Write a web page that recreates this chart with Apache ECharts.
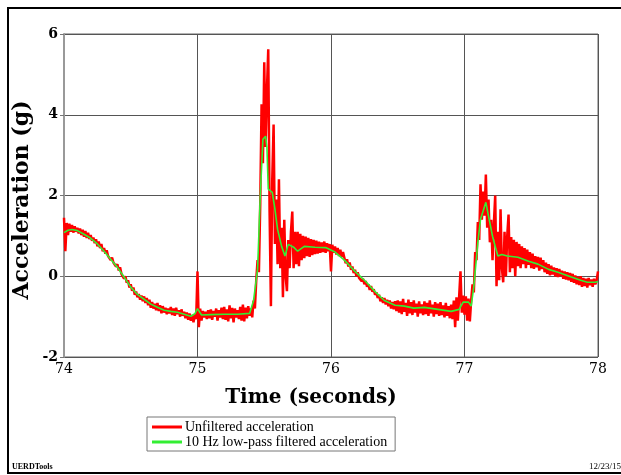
<!DOCTYPE html>
<html>
<head>
<meta charset="utf-8">
<script src="https://cdn.jsdelivr.net/npm/echarts@6/dist/echarts.min.js"></script>
<style>
    html, body { margin: 0; padding: 0; background: #fff; }
    #accel-chart { width: 621px; height: 475px; }
</style>
</head>
<body>
<div id="accel-chart"></div>
<script>
// sampling of the raw signal
var rawStart = 74;
var rawStep = 0.01;
// unfiltered acceleration (g), one value per 0.01 s from 74.00 to 78.00
var rawAccel = [
    1.45, 0.62, 1.32, 1.02, 1.30, 1.10, 1.27, 1.08, 1.24, 1.10,
    1.20, 1.06, 1.18, 1.02, 1.15, 0.98, 1.12, 0.95, 1.08, 0.92,
    1.02, 0.88, 0.96, 0.82, 0.92, 0.74, 0.86, 0.70, 0.80, 0.62,
    0.70, 0.56, 0.64, 0.50, 0.52, 0.40, 0.46, 0.34, 0.38, 0.24,
    0.30, 0.14, 0.22, 0.06, 0.10, -0.06, 0.00, -0.16, -0.10, -0.28,
    -0.20, -0.36, -0.28, -0.46, -0.38, -0.52, -0.44, -0.58, -0.48, -0.62,
    -0.50, -0.66, -0.54, -0.72, -0.58, -0.78, -0.64, -0.80, -0.68, -0.84,
    -0.66, -0.86, -0.72, -0.92, -0.74, -0.90, -0.78, -0.94, -0.80, -0.92,
    -0.76, -0.96, -0.80, -0.98, -0.78, -0.94, -0.84, -1.00, -0.82, -0.98,
    -0.88, -1.04, -0.90, -1.08, -0.92, -1.10, -0.96, -1.14, -0.94, -1.06,
    0.12, -1.26, -0.80, -1.10, -0.86, -1.02, -0.88, -1.06, -0.84, -1.04,
    -0.82, -1.08, -0.86, -1.00, -0.80, -1.10, -0.84, -1.02, -0.78, -1.06,
    -0.76, -1.08, -0.82, -1.12, -0.72, -1.04, -0.78, -1.14, -0.80, -1.02,
    -0.84, -1.06, -0.76, -1.10, -0.70, -1.12, -0.78, -1.04, -0.74, -0.98,
    -0.80, -1.02, -0.60, -0.80, -0.10, 0.40, 0.10, 1.80, 4.26, 2.80,
    5.30, 3.20, 4.60, 5.62, 1.60, -0.74, 2.40, 3.76, 0.80, 1.90,
    0.30, 2.40, 0.20, 1.20, -0.52, 1.40, 0.00, -0.37, 0.90, 0.20,
    1.10, 1.60, 0.20, 1.10, 0.30, 1.10, 0.25, 1.05, 0.40, 1.00,
    0.45, 0.98, 0.50, 0.95, 0.48, 0.92, 0.52, 0.90, 0.55, 0.88,
    0.56, 0.86, 0.58, 0.84, 0.60, 0.86, 0.58, 0.82, 0.62, 0.80,
    0.12, 0.78, 0.58, 0.74, 0.54, 0.70, 0.50, 0.66, 0.48, 0.60,
    0.46, 0.32, 0.42, 0.24, 0.34, 0.16, 0.24, 0.08, 0.16, 0.00,
    0.10, -0.04, 0.00, -0.12, -0.06, -0.20, -0.12, -0.26, -0.20, -0.34,
    -0.24, -0.38, -0.32, -0.46, -0.40, -0.54, -0.46, -0.62, -0.52, -0.66,
    -0.54, -0.70, -0.58, -0.74, -0.60, -0.80, -0.64, -0.82, -0.62, -0.86,
    -0.60, -0.90, -0.62, -0.94, -0.56, -0.88, -0.66, -0.98, -0.58, -0.92,
    -0.64, -0.96, -0.60, -0.90, -0.68, -1.00, -0.62, -0.92, -0.70, -0.96,
    -0.62, -0.94, -0.66, -0.98, -0.60, -0.92, -0.70, -1.00, -0.64, -0.94,
    -0.68, -0.98, -0.64, -0.96, -0.72, -1.02, -0.66, -0.98, -0.74, -1.04,
    -0.70, -1.06, -0.60, -1.26, -0.52, -1.10, -0.50, 0.12, -0.90, -0.48,
    -0.95, -0.50, -1.10, -0.55, -1.12, -0.60, -0.20, -0.40, 0.60, 0.40,
    1.34, 0.90, 2.28, 1.40, 2.10, 1.50, 2.52, 1.20, 1.90, 0.84,
    1.40, 0.40, 1.30, 2.00, -0.25, 1.10, -0.10, 1.66, 0.20, -0.15,
    1.10, 0.00, 1.00, 1.53, 0.10, 0.97, 0.20, 0.90, 0.00, 0.85,
    0.25, 0.80, 0.20, 0.74, 0.30, 0.70, 0.20, 0.66, 0.28, 0.60,
    0.20, 0.56, 0.18, 0.50, 0.22, 0.48, 0.14, 0.46, 0.18, 0.40,
    0.10, 0.34, 0.06, 0.30, 0.02, 0.26, 0.04, 0.22, 0.00, 0.20,
    -0.02, 0.18, 0.00, 0.14, -0.06, 0.12, -0.08, 0.10, -0.10, 0.08,
    -0.14, 0.06, -0.16, 0.02, -0.20, -0.02, -0.22, 0.00, -0.26, -0.04,
    -0.24, -0.06, -0.28, -0.04, -0.22, -0.08, -0.26, -0.06, -0.20, -0.10,
    0.12
];
// 10 Hz low-pass filtered acceleration, read at key times
var filtTime = [
    74.00, 74.03, 74.06, 74.10, 74.15, 74.20, 74.25, 74.30, 74.35, 74.40,
    74.45, 74.50, 74.55, 74.60, 74.65, 74.70, 74.75, 74.80, 74.85, 74.90,
    74.95, 74.98, 75.00, 75.03, 75.10, 75.20, 75.30, 75.39, 75.42, 75.45,
    75.47, 75.49, 75.51, 75.52, 75.53, 75.56, 75.58, 75.60, 75.63, 75.655,
    75.68, 75.72, 75.75, 75.80, 75.88, 75.96, 76.03, 76.10, 76.18, 76.26,
    76.33, 76.40, 76.48, 76.55, 76.62, 76.70, 76.80, 76.90, 76.96, 76.99,
    77.03, 77.05, 77.07, 77.10, 77.12, 77.16, 77.18, 77.21, 77.23, 77.25,
    77.28, 77.32, 77.40, 77.48, 77.55, 77.63, 77.70, 77.80, 77.87, 77.92,
    77.98, 78.00
];
var filtAccel = [
    1.08, 1.14, 1.16, 1.13, 1.04, 0.94, 0.80, 0.62, 0.42, 0.22,
    -0.02, -0.27, -0.45, -0.57, -0.69, -0.77, -0.84, -0.87, -0.89, -0.94,
    -0.99, -0.93, -0.80, -0.96, -0.95, -0.94, -0.94, -0.92, -0.60, 0.17,
    1.98, 3.39, 3.47, 3.20, 2.16, 2.08, 1.66, 1.16, 0.74, 0.50,
    0.79, 0.72, 0.62, 0.74, 0.72, 0.71, 0.60, 0.40, 0.12, -0.13,
    -0.38, -0.60, -0.72, -0.74, -0.79, -0.77, -0.82, -0.87, -0.82, -0.64,
    -0.64, -0.74, -0.25, 0.84, 1.41, 1.83, 1.49, 0.99, 0.74, 0.50,
    0.54, 0.50, 0.47, 0.37, 0.30, 0.17, 0.10, -0.02, -0.10, -0.15,
    -0.15, -0.13
];
var xTicks = { min: 74, max: 78, step: 1 };
var yTicks = { min: -2, max: 6, step: 2 };

var serif = '"Liberation Serif", "DejaVu Serif", serif';
var wideSerif = '"DejaVu Serif", "Liberation Serif", serif';

function initAccelChart() {
    var myChart = echarts.init(document.getElementById('accel-chart'));
    myChart.setOption(accelOption());
    return myChart;
}

function accelOption() {
    var rawData = rawAccel.map(function (v, i) {
        return [+(rawStart + i * rawStep).toFixed(2), v];
    });
    var filtData = filtTime.map(function (t, i) {
        return [t, filtAccel[i]];
    });
    return {
        animation: false,
        grid: {
            left: 64,
            right: 23,
            top: 34,
            bottom: 118,
            containLabel: false,
            outerBoundsMode: 'none',
            show: true,
            borderColor: '#666',
            borderWidth: 1
        },
        legend: {
            orient: 'vertical',
            left: 147,
            top: 417,
            width: 249,
            padding: [3, 8, 2, 5],
            itemGap: 1,
            itemWidth: 30,
            itemHeight: 3,
            icon: 'rect',
            borderColor: '#777',
            borderWidth: 1,
            backgroundColor: '#fff',
            textStyle: {
                fontFamily: serif,
                fontSize: 14,
                color: '#000',
                padding: [0, 0, 0, -2]
            },
            data: ['Unfiltered acceleration', '10 Hz low-pass filtered acceleration']
        },
        xAxis: {
            type: 'value',
            min: xTicks.min,
            max: xTicks.max,
            interval: xTicks.step,
            axisLine: { show: false },
            axisTick: { show: false },
            axisLabel: {
                fontFamily: wideSerif,
                fontSize: 14,
                color: '#000',
                margin: 5
            },
            splitLine: { lineStyle: { color: '#555', width: 1 } }
        },
        yAxis: {
            type: 'value',
            min: yTicks.min,
            max: yTicks.max,
            interval: yTicks.step,
            axisLine: { show: true, lineStyle: { color: '#999', width: 2 } },
            axisTick: { show: true, length: 4, lineStyle: { color: '#777' } },
            axisLabel: {
                fontFamily: wideSerif,
                fontSize: 14,
                fontWeight: 'bold',
                color: '#000',
                margin: 6
            },
            splitLine: { lineStyle: { color: '#555', width: 1 } }
        },
        graphic: [
            {
                type: 'rect',
                shape: { x: 8, y: 8, width: 700, height: 465 },
                style: { fill: 'none', stroke: '#000', lineWidth: 2 },
                silent: true
            },
            {
                type: 'text',
                x: 22,
                y: 200,
                rotation: Math.PI / 2,
                style: {
                    text: 'Acceleration (g)',
                    font: 'bold 22px ' + wideSerif,
                    fill: '#000',
                    textAlign: 'center',
                    textVerticalAlign: 'middle'
                }
            },
            {
                type: 'text',
                x: 311,
                y: 398,
                style: {
                    text: 'Time (seconds)',
                    font: 'bold 20px ' + wideSerif,
                    fill: '#000',
                    textAlign: 'center',
                    textVerticalAlign: 'middle'
                }
            },
            {
                type: 'text',
                x: 12,
                y: 467,
                style: {
                    text: 'UERDTools',
                    font: 'bold 8px ' + serif,
                    fill: '#000',
                    textVerticalAlign: 'middle'
                }
            },
            {
                type: 'text',
                x: 589,
                y: 467,
                style: {
                    text: '12/23/15',
                    font: '9px ' + serif,
                    fill: '#000',
                    textVerticalAlign: 'middle'
                }
            }
        ],
        series: [
            {
                name: 'Unfiltered acceleration',
                type: 'line',
                data: rawData,
                showSymbol: false,
                symbol: 'none',
                color: '#ff0000',
                lineStyle: { color: '#ff0000', width: 2.5 },
                z: 2
            },
            {
                name: '10 Hz low-pass filtered acceleration',
                type: 'line',
                data: filtData,
                showSymbol: false,
                symbol: 'none',
                color: '#33ee33',
                lineStyle: { color: '#33ee33', width: 1.6 },
                z: 3
            }
        ]
    };
}

initAccelChart();
</script>
</body>
</html>
